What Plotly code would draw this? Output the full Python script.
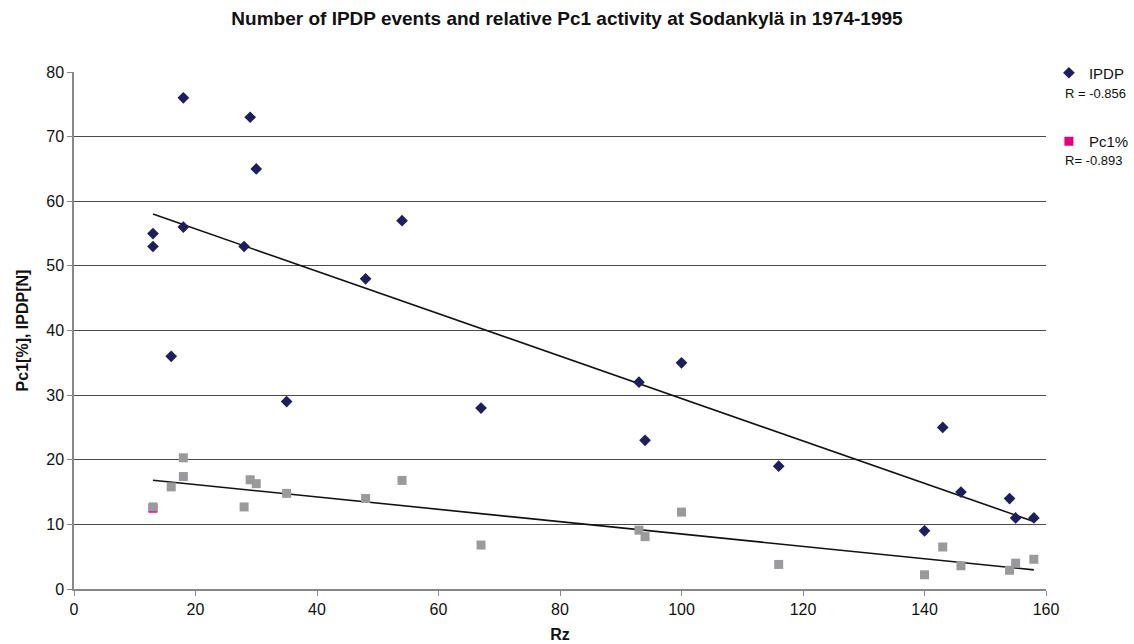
import numpy as np
import plotly.graph_objects as go

rz_ipdp = [13, 13, 16, 18, 18, 28, 29, 30, 35, 48, 54, 67, 93, 94, 100, 116, 140, 143, 146, 154, 155, 158]
ipdp = [55, 53, 36, 76, 56, 53, 73, 65, 29, 48, 57, 28, 32, 23, 35, 19, 9, 25, 15, 14, 11, 11]
rz_pc1 = [13, 16, 18, 18, 28, 29, 30, 35, 48, 54, 67, 93, 94, 100, 116, 140, 143, 146, 154, 155, 158]
pc1 = [12.7, 15.8, 20.3, 17.4, 12.7, 16.9, 16.3, 14.8, 14.0, 16.8, 6.8, 9.1, 8.1, 11.9, 3.8, 2.2, 6.5, 3.6, 2.9, 4.0, 4.6]
pink_rz = [13]
pink_val = [12.5]
r_labels = ["R = -0.856", "R= -0.893"]

font = "Liberation Sans, Arial, sans-serif"

fig = go.Figure()

# trend lines
for xs, ys in [(rz_ipdp, ipdp), (rz_pc1, pc1)]:
    k, b = np.polyfit(xs, ys, 1)
    xl = np.array([min(xs), max(xs)])
    fig.add_trace(go.Scatter(x=xl, y=k * xl + b, mode="lines", line=dict(color="#111111", width=1.6),
                             showlegend=False, hoverinfo="skip"))

fig.add_trace(go.Scatter(x=rz_ipdp, y=ipdp, mode="markers", name="IPDP", legendgroup="a",
                         marker=dict(symbol="diamond", size=9, color="#1f1d5c",
                                     line=dict(width=0))))
fig.add_trace(go.Scatter(x=pink_rz, y=pink_val, mode="markers", name="Pc1%", legendgroup="b",
                         marker=dict(symbol="square", size=9, color="#e5007e",
                                     line=dict(width=0))))
fig.add_trace(go.Scatter(x=rz_pc1, y=pc1, mode="markers", showlegend=False,
                         marker=dict(symbol="square", size=9, color="#9a9a9c",
                                     line=dict(width=0))))

fig.update_layout(
    width=1134, height=644,
    margin=dict(l=74, r=88, t=72, b=55, autoexpand=False),
    paper_bgcolor="white", plot_bgcolor="white",
    font=dict(family=font, size=16, color="#111111"),
    title=dict(text="<b>Number of IPDP events and relative Pc1 activity at Sodankylä in 1974-1995</b>",
               x=0.5, xanchor="center", y=0.972, yanchor="middle",
               font=dict(family=font, size=19, color="#111111")),
    legend=dict(x=1.003, xanchor="left", y=1.03, yanchor="top", traceorder="grouped",
                tracegroupgap=46, font=dict(family=font, size=15), bgcolor="rgba(0,0,0,0)",
                itemwidth=30),
    xaxis=dict(range=[0, 160], dtick=20, showgrid=False, zeroline=False,
               showline=True, linecolor="#888888", linewidth=1.5,
               ticks="outside", ticklen=5, tickcolor="#888888",
               tickfont=dict(size=16),
               title=dict(text="<b>Rz</b>", font=dict(size=16), standoff=12)),
    yaxis=dict(range=[0, 80], dtick=10, showgrid=True, gridcolor="#4a4a4a", gridwidth=1,
               zeroline=False, showline=True, linecolor="#888888", linewidth=1.5,
               ticks="outside", ticklen=5, tickcolor="#888888",
               tickfont=dict(size=16),
               title=dict(text="<b>Pc1[%], IPDP[N]</b>", font=dict(size=16), standoff=14)),
)

for lab, ypx in zip(r_labels, [93, 161]):
    fig.add_annotation(text=lab, xref="paper", yref="paper", x=(1063 - 74) / 972, xanchor="left",
                       y=(644 - 55 - ypx) / 517, yanchor="middle", showarrow=False,
                       font=dict(family=font, size=13, color="#111111"))

fig.write_html("out.html")
